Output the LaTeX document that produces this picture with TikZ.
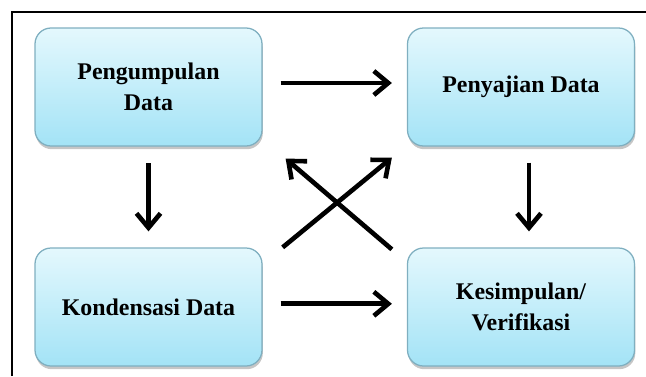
\documentclass[tikz,border=0pt]{standalone}
\usepackage{fontspec}
\setmainfont{Liberation Serif}
\usepackage{tikz}
\usetikzlibrary{arrows.meta}
\usetikzlibrary{shadows}
\tikzset{>={Straight Barb[length=3.6mm,width=6mm]}}
\definecolor{boxtop}{HTML}{E4F8FD}
\definecolor{boxbottom}{HTML}{A3E3F6}
\definecolor{boxedge}{HTML}{7FAFC0}
\tikzset{
    stagebox/.style={draw=boxedge, line width=0.9pt, rounded corners=0.4cm,
        top color=boxtop, bottom color=boxbottom,
        drop shadow={opacity=0.45, shadow xshift=0.02cm, shadow yshift=-0.08cm},
        minimum width=5.675cm, minimum height=2.95cm, align=center,
        font=\fontsize{17}{22}\selectfont\bfseries},
    flow/.style={->, line width=3.3pt}
}

\begin{document}
\begin{tikzpicture}
            \useasboundingbox (0, 0) rectangle (16.15, -9.4);
            \draw[line width=2pt] (0.3, -9.4) -- (0.3, -0.3) -- (16.15, -0.3);
            \node[stagebox] (kumpul) at (3.7125, -2.175) {Pengumpulan\\Data};
            \node[stagebox] (saji) at (13.025, -2.175) {Penyajian Data};
            \node[stagebox] (kondensasi) at (3.7125, -7.675) {Kondensasi Data};
            \node[stagebox] (simpul) at (13.025, -7.675) {Kesimpulan/\\Verifikasi};
            \draw[flow] ([xshift=0.45cm, yshift=0.1cm]kumpul.east) -- ([xshift=-0.375cm, yshift=0.1cm]saji.west);
            \draw[flow] ([xshift=0.45cm, yshift=0.08cm]kondensasi.east) -- ([xshift=-0.375cm, yshift=0.08cm]simpul.west);
            \draw[flow] ([yshift=-0.42cm]kumpul.south) -- ([yshift=0.4cm]kondensasi.north);
            \draw[flow] ([xshift=0.2cm, yshift=-0.4cm]saji.south) -- ([xshift=0.2cm, yshift=0.4cm]simpul.north);
            \draw[flow] ([xshift=0.5cm]kondensasi.north east) -- ([xshift=-0.375cm, yshift=-0.275cm]saji.south west);
            \draw[flow] ([xshift=-0.375cm, yshift=-0.05cm]simpul.north west) -- ([xshift=0.575cm, yshift=-0.3cm]kumpul.south east);
        \end{tikzpicture}
\end{document}
